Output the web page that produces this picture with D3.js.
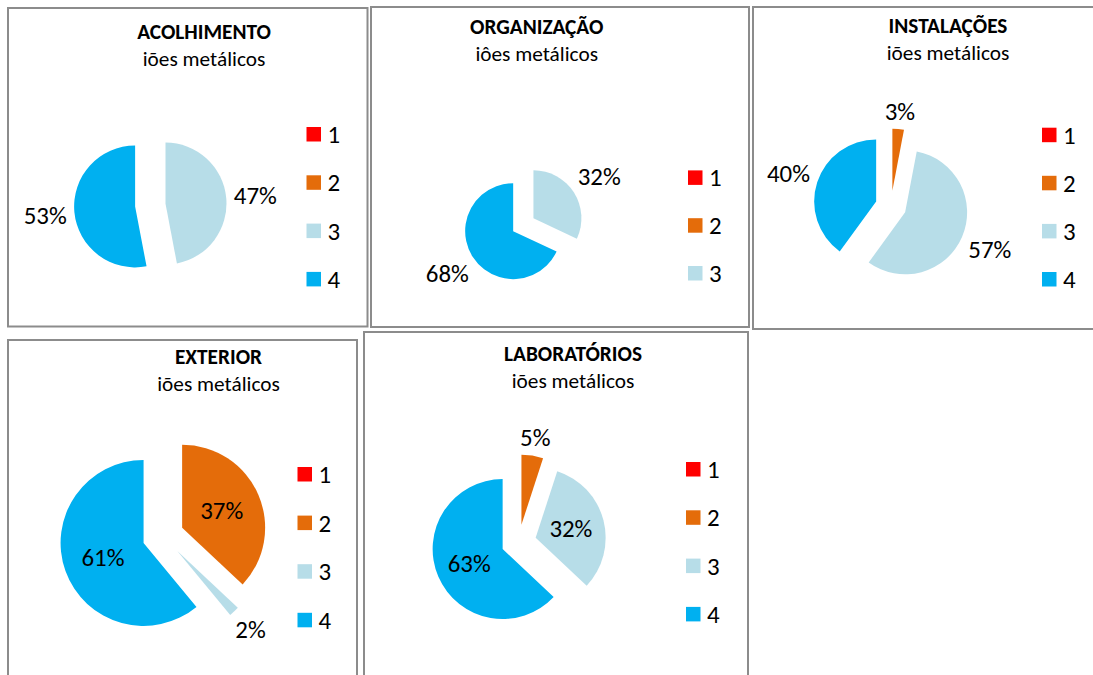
<!DOCTYPE html>
<html>
<head>
<meta charset="utf-8">
<script src="https://cdn.jsdelivr.net/npm/d3@7"></script>
<style>
  html, body { margin: 0; padding: 0; background: #fff; }
  svg { display: block; }
  text { font-family: Carlito, Lato, "Open Sans", sans-serif; fill: #000; }
</style>
</head>
<body>
<svg id="chart" width="1093" height="675"></svg>
<script>
// ---- data ----
const titles = ["ACOLHIMENTO", "ORGANIZAÇÃO", "INSTALAÇÕES", "EXTERIOR", "LABORATÓRIOS"];
const subtitles = ["iões metálicos", "iôes metálicos", "iões metálicos", "iões metálicos", "iões metálicos"];
const categories = ["1", "2", "3", "4"];
const acolhimento  = [0, 0, 47, 53];
const organizacao  = [0, 0, 32, 68];
const instalacoes  = [0, 3, 57, 40];
const exterior     = [0, 37, 2, 61];
const laboratorios = [0, 5, 32, 63];
const seriesValues = [acolhimento, organizacao, instalacoes, exterior, laboratorios];
const colors = ["#FF0000", "#E46C0A", "#B7DDE8", "#00B0F0"];

// ---- layout (positions / styles) ----
const layout = [
  { rect: [8, 8, 359.5, 318.5], cx: 150.3, cy: 205,   r: 61, tx: 204,   ty: 39.3, lx: 306.5, ly: 134.3, step: 48.3, items: 4, mode: "outside" },
  { rect: [371, 7, 378, 320],   cx: 523.3, cy: 224.7, r: 48, tx: 536.7, ty: 33.5, lx: 688,   ly: 177.7, step: 47.8, items: 3, mode: "outside" },
  { rect: [753, 7, 380, 322],   cx: 890.9, cy: 206.2, r: 62, tx: 948,   ty: 32.5, lx: 1042,  ly: 135,   step: 48.1, items: 4, mode: "outside" },
  { rect: [8, 340, 349, 400],   cx: 163.1, cy: 535.9, r: 83, tx: 218.5, ty: 364,  lx: 297.5, ly: 474.3, step: 48.6, items: 4, mode: "bestfit" },
  { rect: [364, 332, 384, 400], cx: 518.7, cy: 542.1, r: 70, tx: 573,   ty: 361,  lx: 686,   ly: 469.3, step: 48.3, items: 4, mode: "bestfit" }
];

const svg = d3.select("#chart");
const color = d3.scaleOrdinal().domain(categories).range(colors);
const pct = d3.format(".0%");
const pie = d3.pie().sort(null).value(d => d.v).startAngle(0).endAngle(2 * Math.PI);

seriesValues.forEach((vals, i) => {
  const L = layout[i];
  const g = svg.append("g");

  g.append("rect")
    .attr("x", L.rect[0]).attr("y", L.rect[1])
    .attr("width", L.rect[2]).attr("height", L.rect[3])
    .attr("fill", "#fff").attr("stroke", "#8c8c8c").attr("stroke-width", 2);

  g.append("text").attr("x", L.tx).attr("y", L.ty)
    .attr("text-anchor", "middle").attr("font-weight", "bold").attr("font-size", 21.3)
    .text(titles[i]);
  g.append("text").attr("x", L.tx).attr("y", L.ty + 27)
    .attr("text-anchor", "middle").attr("font-size", 21.3)
    .text(subtitles[i]);

  const data = categories.map((c, k) => ({ c, v: vals[k] }));
  const total = d3.sum(vals);
  const arcs = pie(data).filter(a => a.data.v > 0);
  const arc = d3.arc().innerRadius(0).outerRadius(L.r);
  const explode = 0.25 * L.r;

  const pg = g.append("g").attr("transform", `translate(${L.cx},${L.cy})`);
  arcs.forEach(a => {
    const mid = (a.startAngle + a.endAngle) / 2;
    const ux = Math.sin(mid), uy = -Math.cos(mid);
    const ox = ux * explode, oy = uy * explode;
    pg.append("path")
      .attr("d", arc(a))
      .attr("transform", `translate(${ox},${oy})`)
      .attr("fill", color(a.data.c));

    const share = a.data.v / total;
    const t = pg.append("text")
      .attr("text-anchor", "middle").attr("dy", "0.35em").attr("font-size", 24.9)
      .text(pct(share));
    const bb = t.node().getBBox();
    let dist;
    if (L.mode === "bestfit" && share >= 0.1) {
      dist = 0.52 * L.r;
    } else {
      const w = bb.width, h = 18;
      dist = L.r + 7 + Math.abs(ux) * w / 2 + Math.abs(uy) * h / 2;
    }
    t.attr("x", ox + ux * dist).attr("y", oy + uy * dist);
  });

  const lg = g.append("g");
  categories.slice(0, L.items).forEach((c, k) => {
    const y = L.ly + k * L.step;
    lg.append("rect").attr("x", L.lx).attr("y", y - 7.3)
      .attr("width", 14.5).attr("height", 14.5).attr("fill", color(c));
    lg.append("text").attr("x", L.lx + 21).attr("y", y).attr("dy", "0.35em")
      .attr("font-size", 24.9).text(c);
  });
});
</script>
</body>
</html>
